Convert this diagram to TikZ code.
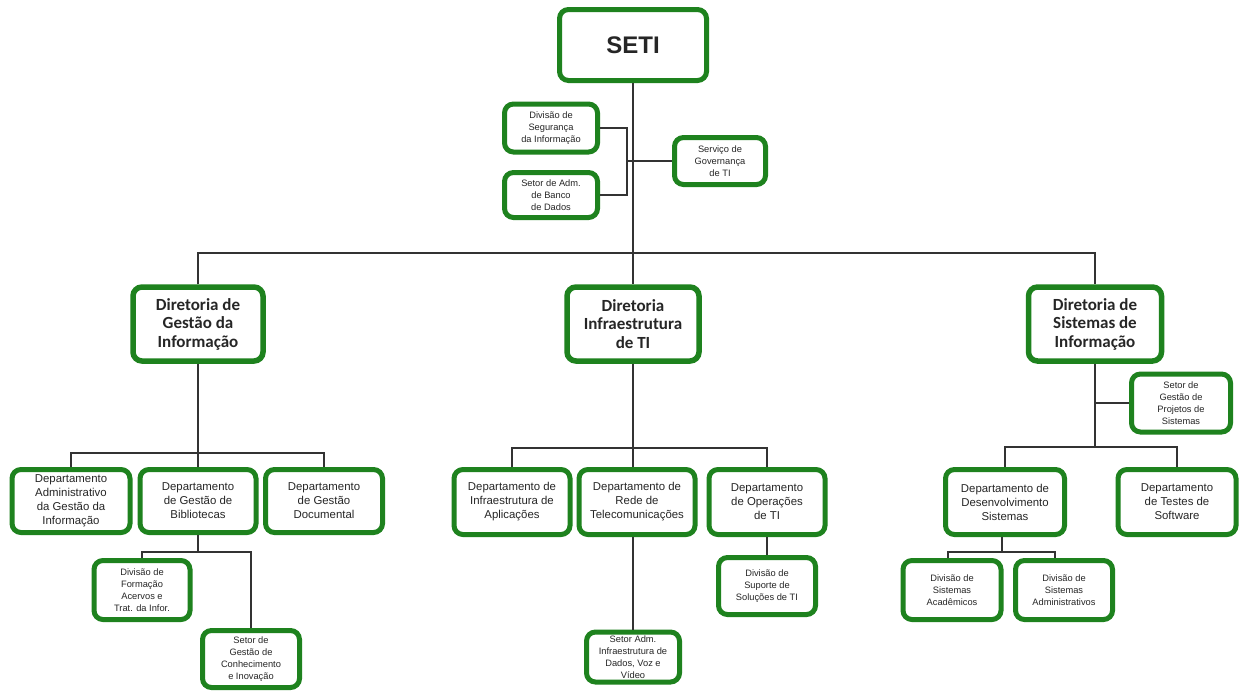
\documentclass[tikz,border=0pt]{standalone}
\usepackage{fontspec}
\setmainfont{Liberation Sans}
\newfontfamily\dirfont{Carlito}
\begin{document}
\begin{tikzpicture}[x=1pt,y=-1pt,
  box/.style={draw=boxgreen, line width=5pt, rounded corners=9pt, fill=white, align=center, inner sep=0pt, text=black!85},
  topbox/.style={box, font=\fontsize{24}{28}\selectfont\bfseries},
  dirbox/.style={box, line width=5.5pt, font=\dirfont\fontsize{17}{18.5}\selectfont\bfseries},
  deptbox/.style={box, font=\fontsize{11.4}{14}\selectfont},
  smallbox/.style={box, font=\fontsize{9.3}{11.8}\selectfont},
  conn/.style={draw=black!80, line width=1.2pt}]
\definecolor{boxgreen}{RGB}{30,130,30}
\fill[white] (0,0) rectangle (1240,691);
\useasboundingbox (0,0) rectangle (1240,691);

% nodes
\node[topbox, minimum width=147, minimum height=71] (seti) at (633,45) {SETI};
\node[smallbox, minimum width=93, minimum height=48] (dseg) at (551,128) {Divisão de\\Segurança\\da Informação};
\node[smallbox, minimum width=93, minimum height=45] (sadm) at (551,195) {Setor de Adm.\\de Banco\\de Dados};
\node[smallbox, minimum width=91, minimum height=47] (sgov) at (720,161) {Serviço de\\Governança\\de TI};

\node[dirbox, minimum width=130, minimum height=74] (dgi) at (198,324) {Diretoria de\\Gestão da\\Informação};
\node[dirbox, minimum width=132, minimum height=74] (dit) at (633,324) {Diretoria\\Infraestrutura\\de TI};
\node[dirbox, minimum width=133, minimum height=74] (dsi) at (1095,324) {Diretoria de\\Sistemas de\\Informação};

\node[smallbox, minimum width=99, minimum height=58] (sproj) at (1181,403) {Setor de\\Gestão de\\Projetos de\\Sistemas};

\node[deptbox, minimum width=118, minimum height=63] (dadm) at (71,501) {Departamento\\Administrativo\\da Gestão da\\Informação};
\node[deptbox, minimum width=116, minimum height=63] (dbib) at (198,501) {Departamento\\de Gestão de\\Bibliotecas};
\node[deptbox, minimum width=117, minimum height=63] (ddoc) at (324,501) {Departamento\\de Gestão\\Documental};
\node[smallbox, minimum width=96, minimum height=59] (dform) at (142,590) {Divisão de\\Formação\\Acervos e\\Trat. da Infor.};
\node[smallbox, minimum width=97, minimum height=57] (sconh) at (251,659) {Setor de\\Gestão de\\Conhecimento\\e Inovação};

\node[deptbox, minimum width=116, minimum height=65] (dapl) at (512,502) {Departamento de\\Infraestrutura de\\Aplicações};
\node[deptbox, minimum width=116, minimum height=65] (drede) at (637,502) {Departamento de\\Rede de\\Telecomunicações};
\node[deptbox, minimum width=116, minimum height=65] (dops) at (767,502) {Departamento\\de Operações\\de TI};
\node[smallbox, minimum width=97, minimum height=57] (dsup) at (767,586) {Divisão de\\Suporte de\\Soluções de TI};
\node[smallbox, minimum width=93, minimum height=50] (sdvv) at (633,657) {Setor Adm.\\Infraestrutura de\\Dados, Voz e\\Vídeo};

\node[deptbox, minimum width=119, minimum height=65] (ddes) at (1005,502) {Departamento de\\Desenvolvimento\\Sistemas};
\node[deptbox, minimum width=118, minimum height=65] (dtes) at (1177,502) {Departamento\\de Testes de\\Software};
\node[smallbox, minimum width=98, minimum height=59] (dacad) at (952,590) {Divisão de\\Sistemas\\Acadêmicos};
\node[smallbox, minimum width=97, minimum height=59] (dadmin) at (1064,590) {Divisão de\\Sistemas\\Administrativos};

% junction coordinates
\coordinate (topbar) at (633,253);
\coordinate (brk) at (627,161);
\coordinate (gbar) at (198,453);
\coordinate (bbar) at (198,552);
\coordinate (ibar) at (633,448);
\coordinate (sbar) at (1095,447);
\coordinate (dbar) at (1002,552);

% connectors
\draw[conn] (seti.south) -- (topbar);
\draw[conn] (dgi.north) |- (topbar) -| (dsi.north);
\draw[conn] (topbar) -- (dit.north);
\draw[conn] (dseg.east) -| (brk) |- (sadm.east);
\draw[conn] (brk) -- (sgov.west);

\draw[conn] (dgi.south) -- (gbar);
\draw[conn] (dadm.north) |- (gbar) -| (ddoc.north);
\draw[conn] (gbar) -- (dbib.north);
\draw[conn] (dbib.south) -- (bbar);
\draw[conn] (dform.north) |- (bbar) -| (sconh.north);

\draw[conn] (dit.south) -- (ibar);
\draw[conn] (dapl.north) |- (ibar) -| (dops.north);
\draw[conn] (ibar) -- (ibar |- drede.north);
\draw[conn] (sdvv.north) -- (sdvv.north |- drede.south);
\draw[conn] (dops.south) -- (dsup.north);

\draw[conn] (dsi.south) -- (sbar);
\draw[conn] (sproj.west) -- (sproj.west -| dsi.south);
\draw[conn] (ddes.north) |- (sbar) -| (dtes.north);
\draw[conn] (ddes.south -| dbar) -- (dbar);
\draw[conn] ([xshift=-4pt]dacad.north) |- (dbar) -| ([xshift=-9pt]dadmin.north);
\end{tikzpicture}
\end{document}
